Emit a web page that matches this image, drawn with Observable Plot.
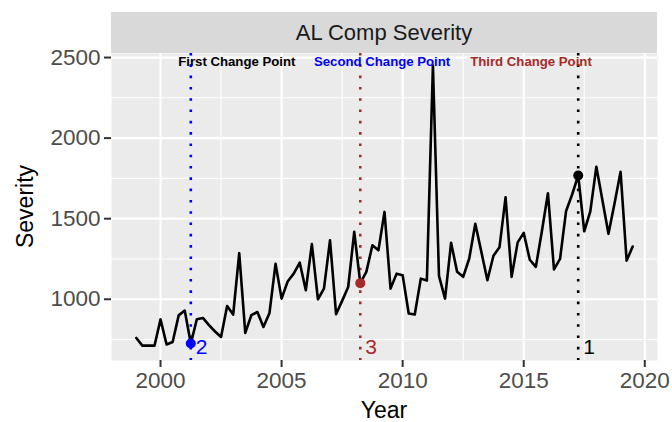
<!DOCTYPE html>
<html><head><meta charset="utf-8">
<script src="https://cdn.jsdelivr.net/npm/d3@7"></script>
<script src="https://cdn.jsdelivr.net/npm/@observablehq/plot@0.6"></script>
<style>
body{margin:0;background:#fff;}
svg{font-family:"Liberation Sans",Arial,Helvetica,sans-serif;}
</style>
</head><body><div id="chart"></div>
<script>
// Quarterly severity from 1999 Q1 to 2019 Q3
const startYear = 1999;
const severity = [
  760, 712, 712, 712, 875, 719, 735, 900, 930, 725,
  876, 884, 840, 800, 766, 958, 905, 1286, 791, 901,
  921, 828, 915, 1220, 1004, 1110, 1159, 1227, 1056, 1342,
  1000, 1066, 1366, 907, 990, 1076, 1418, 1100, 1170, 1335,
  1304, 1542, 1066, 1159, 1149, 912, 905, 1128, 1116, 2450,
  1145, 1004, 1350, 1170, 1139, 1253, 1468, 1294, 1118, 1270,
  1323, 1632, 1139, 1353, 1412, 1245, 1201, 1422, 1658, 1185,
  1250, 1548, 1650, 1768, 1422, 1545, 1822, 1615, 1406, 1594,
  1791, 1240, 1327
];
const changeYears = [2017.25, 2001.25, 2008.25];
const changeLabels = ["1", "2", "3"];
const changeColors = ["black", "blue", "#A52A2A"];
const noteTexts = ["First Change Point", "Second Change Point", "Third Change Point"];
const noteYears = [2003.15, 2009.15, 2015.3];
const noteColors = ["black", "blue", "#A52A2A"];
const xTicks = [2000, 2005, 2010, 2015, 2020];
const xMinor = [2002.5, 2007.5, 2012.5, 2017.5];
const yTicks = [1000, 1500, 2000, 2500];
const yMinor = [750, 1250, 1750, 2250];
const stripTitle = "AL Comp Severity";
const xTitle = "Year";
const yTitle = "Severity";

const series = severity.map((v, i) => ({year: startYear + i * 0.25, value: v}));
const changes = changeYears.map((yr, i) => ({
  year: yr,
  label: changeLabels[i],
  color: changeColors[i],
  value: severity[Math.round((yr - startYear) * 4)]
}));
const notes = noteTexts.map((t, i) => ({text: t, year: noteYears[i], color: noteColors[i]}));

const W = 672, H = 422;
const mLeft = 111, mRight = 15, mTop = 53, mBottom = 62;

const plot = Plot.plot({
  width: W,
  height: H,
  marginLeft: mLeft,
  marginRight: mRight,
  marginTop: mTop,
  marginBottom: mBottom,
  style: {fontFamily: '"Liberation Sans", Arial, Helvetica, sans-serif', background: "white"},
  x: {domain: [1997.975, 2020.525]},
  y: {domain: [620, 2525]},
  marks: [
    Plot.frame({fill: "#EBEBEB", stroke: null}),
    Plot.ruleY(yMinor, {stroke: "white", strokeWidth: 1.1}),
    Plot.ruleX(xMinor, {stroke: "white", strokeWidth: 1.1}),
    Plot.ruleY(yTicks, {stroke: "white", strokeWidth: 2.2}),
    Plot.ruleX(xTicks, {stroke: "white", strokeWidth: 2.2}),
    Plot.ruleX(changes, {x: "year", stroke: "color", strokeWidth: 2.6, strokeDasharray: "2.6,8.7"}),
    Plot.line(series, {x: "year", y: "value", stroke: "black", strokeWidth: 2.6}),
    Plot.dot(changes, {x: "year", y: "value", fill: "color", r: 5, stroke: null}),
    Plot.text(changes, {x: "year", y: 700, text: "label", fill: "color", textAnchor: "start", dx: 5, fontSize: 21}),
    Plot.text(notes, {x: "year", y: 2475, text: "text", fill: "color", fontWeight: "bold", fontSize: 13.2}),
    Plot.axisX({ticks: xTicks, tickFormat: d => String(d), tickSize: 7, tickPadding: 5, fontSize: 22.5, fill: "#4D4D4D", stroke: "#333333", strokeWidth: 2, label: null}),
    Plot.axisY({ticks: yTicks, tickFormat: d => String(d), tickSize: 7, tickPadding: 4, fontSize: 22.5, fill: "#4D4D4D", stroke: "#333333", strokeWidth: 2, label: null})
  ]
});

const svg = d3.select(plot);
const xs = plot.scale("x");
const ys = plot.scale("y");
const pLeft = xs.range[0], pRight = xs.range[1];
const pTop = ys.range[1], pBottom = ys.range[0];

// facet strip
const stripH = 41;
svg.append("rect").attr("x", pLeft).attr("y", pTop - stripH).attr("width", pRight - pLeft).attr("height", stripH).attr("fill", "#D9D9D9");
svg.append("text").attr("x", (pLeft + pRight) / 2).attr("y", pTop - stripH / 2).attr("dy", "0.35em")
  .attr("text-anchor", "middle").attr("font-size", 22).attr("fill", "#1A1A1A").text(stripTitle);

// axis titles
svg.append("text").attr("x", (pLeft + pRight) / 2).attr("y", 410).attr("dy", "0.35em")
  .attr("text-anchor", "middle").attr("font-size", 23).attr("fill", "black").text(xTitle);
svg.append("text").attr("transform", `translate(25,${(pTop + pBottom) / 2}) rotate(-90)`).attr("dy", "0.35em")
  .attr("text-anchor", "middle").attr("font-size", 23).attr("fill", "black").text(yTitle);

document.getElementById("chart").appendChild(plot);
</script>
</body></html>
